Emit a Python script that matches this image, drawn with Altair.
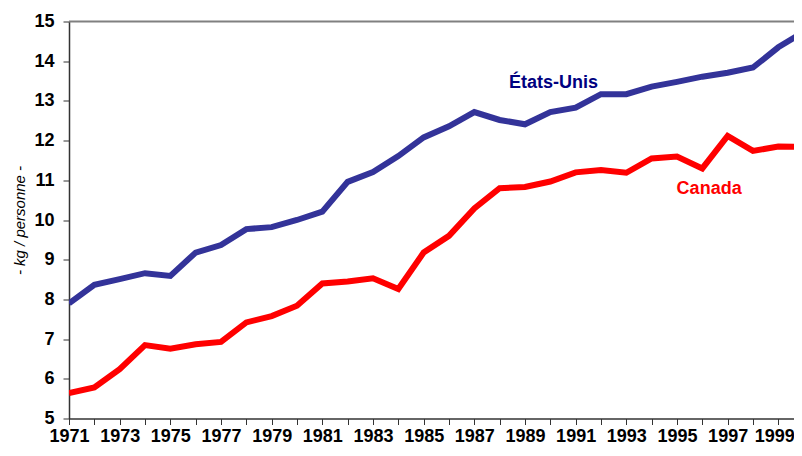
import altair as alt
import pandas as pd

years = list(range(1971, 2001))
usa = [7.90, 8.37, 8.51, 8.66, 8.59, 9.18, 9.37, 9.77, 9.82, 10.00,
       10.21, 10.96, 11.21, 11.61, 12.08, 12.36, 12.72, 12.52, 12.41, 12.72,
       12.83, 13.17, 13.17, 13.36, 13.48, 13.61, 13.71, 13.84, 14.35, 14.74]
canada = [5.64, 5.78, 6.24, 6.85, 6.76, 6.87, 6.93, 7.42, 7.58, 7.84,
          8.40, 8.45, 8.53, 8.26, 9.18, 9.60, 10.29, 10.80, 10.83, 10.97,
          11.20, 11.26, 11.19, 11.55, 11.60, 11.30, 12.12, 11.74, 11.85, 11.84]

series_names = ["États-Unis", "Canada"]
series_colors = ["#333399", "#FF0000"]

label_text = ["États-Unis", "Canada"]
label_year = [1990.13, 1996.27]
label_value = [13.46, 10.78]
label_colors = ["#000080", "#FF0000"]

y_ticks = list(range(5, 16))
x_ticks = years[:-1]

rows = []
for name, vals in zip(series_names, [usa, canada]):
    for yr, v in zip(years, vals):
        rows.append({"year": yr, "value": v, "series": name})
df = pd.DataFrame(rows)

labels_df = pd.DataFrame({"text": label_text, "year": label_year,
                          "value": label_value, "color": label_colors})

W, H = 725, 397

# visible window ends just before 2000 (the reference is cut at the right edge)
xscale = alt.Scale(domain=[1971, 1999.62], nice=False, zero=False)
yscale = alt.Scale(domain=[5, 15], nice=False, zero=False)

x_axis = alt.Axis(values=x_ticks, format="d",
                  labelExpr="datum.value % 2 == 1 ? datum.label : ''",
                  grid=False, tickSize=6, labelPadding=3,
                  labelOffset={"condition": {"test": "datum.value == 1999", "value": -4}, "value": 0},
                  labelFont="Liberation Sans", labelFontSize=18,
                  labelFontWeight="bold", labelColor="#000000",
                  labelOverlap=False, labelFlush=False,
                  domainColor="#333333", domainWidth=1.5,
                  tickColor="#333333", tickWidth=1)

y_axis = alt.Axis(values=y_ticks, grid=False, tickSize=6, labelPadding=9,
                  labelFont="Liberation Sans", labelFontSize=18,
                  labelFontWeight="bold", labelColor="#000000",
                  labelOverlap=False, labelFlush=False,
                  domainColor="#333333", domainWidth=1.5,
                  tickColor="#333333", tickWidth=1,
                  titleFont="Liberation Sans", titleFontSize=15,
                  titleFontStyle="italic", titleFontWeight="normal",
                  titleColor="#000000",
                  titleX=-50, titleY=H / 2, titleAngle=270,
                  titleAlign="center", titleBaseline="middle")

lines = alt.Chart(df).mark_line(strokeWidth=6, strokeJoin="miter", clip=True).encode(
    x=alt.X("year:Q", scale=xscale, title=None, axis=x_axis),
    y=alt.Y("value:Q", scale=yscale, title="- kg / personne -", axis=y_axis),
    color=alt.Color("series:N",
                    scale=alt.Scale(domain=series_names, range=series_colors),
                    legend=None),
    detail="series:N",
)

top_border = alt.Chart(pd.DataFrame({"v": [15]})).mark_rule(
    color="#808080", strokeWidth=2
).encode(y=alt.Y("v:Q", scale=yscale, title="- kg / personne -", axis=y_axis))

texts = alt.Chart(labels_df).mark_text(
    font="Liberation Sans", fontSize=18, fontWeight="bold",
    align="center", baseline="middle"
).encode(
    x=alt.X("year:Q", scale=xscale, title=None, axis=x_axis),
    y=alt.Y("value:Q", scale=yscale, title="- kg / personne -", axis=y_axis),
    text="text:N",
    color=alt.Color("color:N", scale=None),
)

chart = (top_border + lines + texts).properties(
    width=W, height=H,
    autosize=alt.AutoSizeParams(type="none"),
    padding={"left": 61, "top": 13.5, "right": 0, "bottom": 29.5},
    background="white",
).configure_view(stroke=None).configure_axis(labelOverlap=False)

chart.save("out.html", embed_options={"renderer": "svg", "actions": False})
